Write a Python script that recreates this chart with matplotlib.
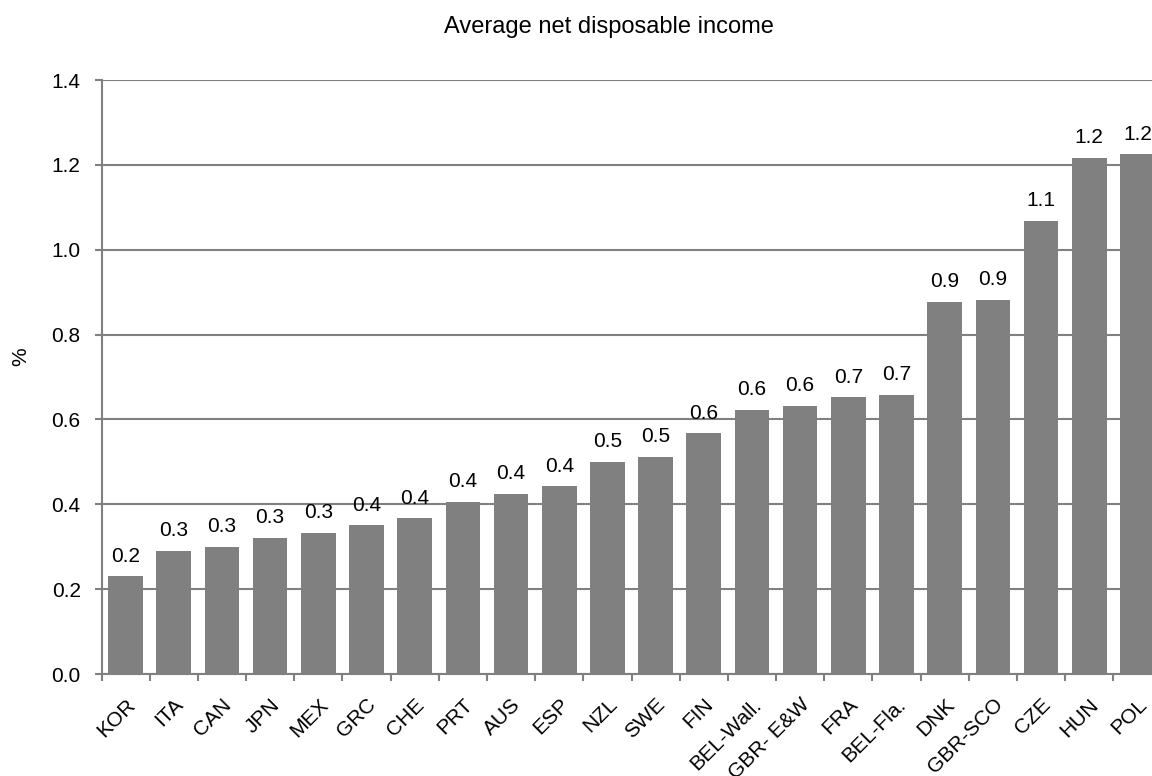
import matplotlib.pyplot as plt
import numpy as np

plt.rcParams['font.family'] = ['Liberation Sans', 'DejaVu Sans']

# countries and values
countries = ["KOR", "ITA", "CAN", "JPN", "MEX", "GRC", "CHE", "PRT", "AUS", "ESP", "NZL",
             "SWE", "FIN", "BEL-Wall.", "GBR- E&W", "FRA", "BEL-Fla.", "DNK", "GBR-SCO",
             "CZE", "HUN", "POL"]
values = [0.230, 0.291, 0.300, 0.321, 0.333, 0.351, 0.367, 0.406, 0.425, 0.443, 0.500,
          0.512, 0.568, 0.623, 0.632, 0.653, 0.658, 0.877, 0.882, 1.068, 1.217, 1.225]

grey = "#808080"
fs = 15

fig = plt.figure(figsize=(11.52, 7.76), dpi=100)
# axes runs slightly past the right edge of the figure, like the original
ax = fig.add_axes([101.5/1152, 1 - 674/776, 1060/1152, 594/776])

x = np.arange(len(countries))
ax.bar(x, values, width=0.72, color=grey, zorder=3)

for xi, v in zip(x, values):
    ax.text(xi, v + 0.034, f"{v:.1f}", ha="center", va="baseline", fontsize=fs, clip_on=False)

ax.set_xlim(-0.5, len(countries) - 0.5)
ax.set_ylim(0, 1.4)
ax.set_yticks(np.arange(0, 1.41, 0.2))
ax.set_yticklabels([f"{t:.1f}" for t in np.arange(0, 1.41, 0.2)], fontsize=fs)
ax.yaxis.grid(True, color=grey, linewidth=1.5, zorder=0)
ax.tick_params(axis="y", length=5, color=grey, width=1.5, pad=10)

ax.set_xticks(x)
ax.set_xticklabels(countries, rotation=45, ha="right", rotation_mode="anchor", fontsize=fs)
ax.tick_params(axis="x", which="major", length=0, pad=15)
ax.set_xticks(np.arange(-0.5, len(countries), 1), minor=True)
ax.tick_params(axis="x", which="minor", length=5, color=grey, width=1.5)

for s in ["top", "right"]:
    ax.spines[s].set_visible(False)
for s in ["left", "bottom"]:
    ax.spines[s].set_color(grey)
    ax.spines[s].set_linewidth(1.5)

fig.text(21/1152, 1 - 357/776, "%", rotation=90, ha="center", va="center", fontsize=fs)
fig.text(609/1152, 1 - 33/776, "Average net disposable income", ha="center", va="baseline", fontsize=17)

fig.savefig("out.png", dpi=100)
